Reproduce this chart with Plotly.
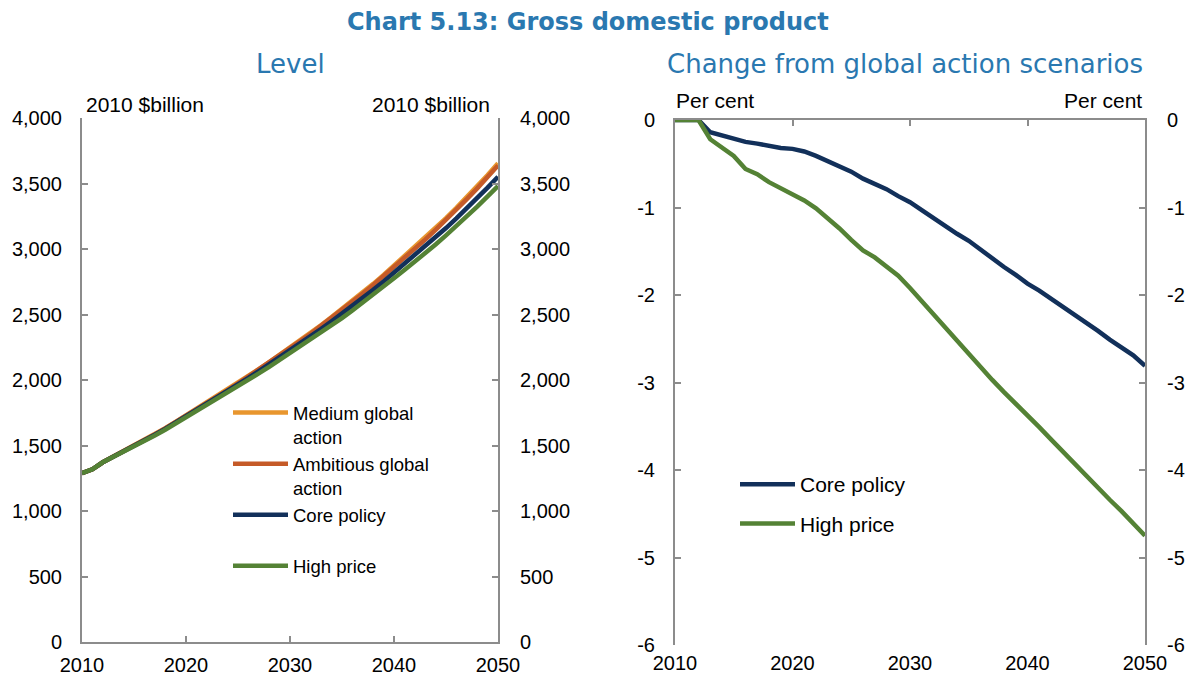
import plotly.graph_objects as go

# ---------------- data ----------------
years = list(range(2010, 2051))

medium_global = [1288, 1318, 1372, 1415, 1456, 1496, 1541, 1586, 1632, 1680,
                 1730, 1777, 1825, 1874, 1925, 1977, 2030, 2083, 2137, 2192,
                 2248, 2304, 2361, 2420, 2480, 2541, 2604, 2668, 2734, 2802,
                 2873, 2942, 3012, 3084, 3158, 3235, 3314, 3395, 3478, 3565, 3655]
ambitious_global = [1288, 1318, 1372, 1414, 1455, 1495, 1540, 1585, 1631, 1678,
                    1728, 1775, 1823, 1872, 1922, 1974, 2027, 2079, 2133, 2188,
                    2243, 2299, 2355, 2414, 2473, 2534, 2596, 2660, 2725, 2793,
                    2863, 2932, 3001, 3072, 3146, 3222, 3300, 3381, 3463, 3549, 3638]
core_level = [1288, 1318, 1372, 1413, 1453, 1493, 1537, 1582, 1627, 1675,
              1724, 1771, 1818, 1865, 1915, 1965, 2016, 2068, 2120, 2173,
              2227, 2280, 2335, 2390, 2448, 2506, 2565, 2626, 2688, 2752,
              2819, 2885, 2951, 3018, 3088, 3160, 3234, 3310, 3388, 3469, 3552]
high_level = [1288, 1318, 1372, 1412, 1451, 1490, 1532, 1576, 1620, 1667,
              1715, 1761, 1807, 1853, 1901, 1950, 2000, 2050, 2101, 2153,
              2205, 2256, 2309, 2362, 2417, 2473, 2530, 2589, 2649, 2711,
              2776, 2839, 2902, 2967, 3034, 3104, 3175, 3248, 3323, 3401, 3481]

core_pct = [0, 0, 0, -0.14, -0.18, -0.22, -0.25, -0.27, -0.30, -0.32,
            -0.33, -0.36, -0.41, -0.47, -0.53, -0.59, -0.67, -0.73, -0.79, -0.87,
            -0.94, -1.03, -1.12, -1.22, -1.30, -1.38, -1.48, -1.59, -1.68, -1.77,
            -1.87, -1.95, -2.04, -2.13, -2.23, -2.31, -2.41, -2.51, -2.60, -2.69, -2.81]
high_pct = [0, 0, 0, -0.22, -0.31, -0.41, -0.56, -0.62, -0.71, -0.78,
            -0.84, -0.92, -1.01, -1.12, -1.24, -1.37, -1.49, -1.57, -1.67, -1.78,
            -1.92, -2.07, -2.22, -2.38, -2.53, -2.68, -2.83, -2.97, -3.11, -3.24,
            -3.37, -3.51, -3.65, -3.79, -3.92, -4.06, -4.20, -4.34, -4.47, -4.61, -4.75]

x_ticks = [2010, 2020, 2030, 2040, 2050]
level_ticks = [0, 500, 1000, 1500, 2000, 2500, 3000, 3500, 4000]
pct_ticks = [0, -1, -2, -3, -4, -5, -6]
pct_tick_labels = ["0", "-1", "-2", "-3", "-4", "-5", "-6"]

# ---------------- styling ----------------
W, H = 1188, 681
C_MED = "#E8962E"
C_AMB = "#C55A28"
C_CORE = "#12305A"
C_HIGH = "#548235"
AX = "#8C8C8C"
BLUE = "#2A78B0"
FONT = "Liberation Sans, Arial, sans-serif"
TFONT = "DejaVu Sans, Verdana, sans-serif"
FS = 20
LW = 4.5

fig = go.Figure()

left = [("Medium global<br>action", medium_global, C_MED),
        ("Ambitious global<br>action", ambitious_global, C_AMB),
        ("Core policy<br> ", core_level, C_CORE),
        ("High price", high_level, C_HIGH)]
for i, (name, vals, col) in enumerate(left):
    fig.add_trace(go.Scatter(x=years, y=vals, name=name, mode="lines",
                             line=dict(color=col, width=LW),
                             xaxis="x", yaxis="y", legend="legend",
                             legendgroup="l%d" % i))

right = [("Core policy", core_pct, C_CORE), ("High price", high_pct, C_HIGH)]
for i, (name, vals, col) in enumerate(right):
    fig.add_trace(go.Scatter(x=years, y=vals, name=name, mode="lines",
                             line=dict(color=col, width=LW),
                             xaxis="x2", yaxis="y2", legend="legend2",
                             legendgroup="r%d" % i))

# empty helper traces so that the mirrored axes (right-hand y axes, top x axis) get drawn
for xa, ya in [("x", "y3"), ("x2", "y4"), ("x4", "y2")]:
    fig.add_trace(go.Scatter(x=[], y=[], mode="lines", xaxis=xa, yaxis=ya,
                             showlegend=False, hoverinfo="skip"))

L0, L1 = 82 / W, 498 / W
R0, R1 = 675 / W, 1145 / W
LB, LT = 1 - 642 / H, 1 - 118 / H
RB, RT = 1 - 645 / H, 1 - 120 / H

axis_common = dict(showgrid=False, zeroline=False, linecolor=AX, linewidth=2,
                   ticks="inside", ticklen=6, tickwidth=2, tickcolor=AX,
                   automargin=False,
                   tickfont=dict(family=FONT, size=FS, color="black"))

fig.update_layout(
    template="none",
    width=W, height=H, margin=dict(l=0, r=0, t=0, b=0, autoexpand=False),
    paper_bgcolor="white", plot_bgcolor="white",
    xaxis=dict(domain=[L0, L1], anchor="y", range=[2010, 2050], tickvals=x_ticks,
               showline=True, ticklabelstandoff=4, **axis_common),
    yaxis=dict(domain=[LB, LT], anchor="x", range=[0, 4000], tickvals=level_ticks,
               tickformat=",", showline=True, ticklabelstandoff=14, **axis_common),
    yaxis3=dict(overlaying="y", side="right", anchor="x", range=[0, 4000],
                tickvals=level_ticks, tickformat=",", showline=True,
                ticklabelstandoff=16, **axis_common),
    xaxis2=dict(domain=[R0, R1], anchor="y2", range=[2010, 2050], tickvals=x_ticks,
                showline=False, ticklabelstandoff=4,
                **{**axis_common, "ticks": ""}),
    xaxis4=dict(overlaying="x2", side="top", anchor="y2", range=[2010, 2050],
                tickvals=x_ticks, showline=True, showticklabels=False, **axis_common),
    yaxis2=dict(domain=[RB, RT], anchor="x2", range=[-6, 0], tickvals=pct_ticks,
                ticktext=pct_tick_labels, showline=True, ticklabelstandoff=14,
                **axis_common),
    yaxis4=dict(overlaying="y2", side="right", anchor="x2", range=[-6, 0],
                tickvals=pct_ticks, ticktext=pct_tick_labels, showline=True,
                ticklabelstandoff=16, **axis_common),
    legend=dict(x=228 / W, y=1 - 394 / H, xanchor="left", yanchor="top",
                bgcolor="rgba(0,0,0,0)", font=dict(family=FONT, size=18.5, color="black"),
                valign="top", itemwidth=55, tracegroupgap=0),
    legend2=dict(x=735 / W, y=1 - 464 / H, xanchor="left", yanchor="top",
                 bgcolor="rgba(0,0,0,0)", font=dict(family=FONT, size=21, color="black"),
                 itemwidth=55, tracegroupgap=9),
    showlegend=True,
)

annots = [
    dict(text="<b>Chart 5.13: Gross domestic product</b>", x=588 / W, y=1 - 22 / H,
         font=dict(family=TFONT, size=24, color=BLUE), xanchor="center", yanchor="middle"),
    dict(text="Level", x=290 / W, y=1 - 64 / H,
         font=dict(family=TFONT, size=26, color=BLUE), xanchor="center", yanchor="middle"),
    dict(text="Change from global action scenarios", x=905 / W, y=1 - 64 / H,
         font=dict(family=TFONT, size=26, color=BLUE), xanchor="center", yanchor="middle"),
    dict(text="2010 $billion", x=84 / W, y=1 - 105 / H, xanchor="left", yanchor="middle",
         font=dict(family=FONT, size=21, color="black")),
    dict(text="2010 $billion", x=492 / W, y=1 - 105 / H, xanchor="right", yanchor="middle",
         font=dict(family=FONT, size=21, color="black")),
    dict(text="Per cent", x=674 / W, y=1 - 100 / H, xanchor="left", yanchor="middle",
         font=dict(family=FONT, size=21, color="black")),
    dict(text="Per cent", x=1144 / W, y=1 - 100 / H, xanchor="right", yanchor="middle",
         font=dict(family=FONT, size=21, color="black")),
]
for a in annots:
    fig.add_annotation(xref="paper", yref="paper", showarrow=False, **a)

fig.write_html("out.html", config={"displayModeBar": False},
               post_script="document.body.style.margin='0';document.body.style.padding='0';")
